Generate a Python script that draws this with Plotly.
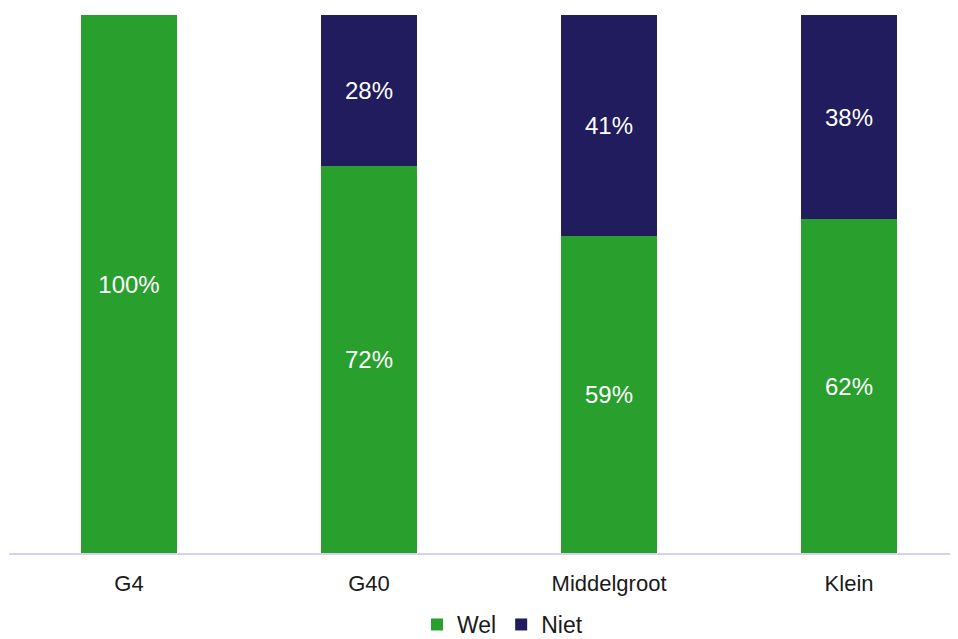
import plotly.graph_objects as go

categories = ["G4", "G40", "Middelgroot", "Klein"]
wel = [100, 72, 59, 62]
niet = [0, 28, 41, 38]

GREEN = "#29A02E"
NAVY = "#201C5E"
FONT = "Liberation Sans, Arial, sans-serif"

def labels(vals):
    return [f"{v}%" if v > 0 else "" for v in vals]

fig = go.Figure()
fig.add_trace(go.Bar(
    name="Wel", x=categories, y=wel, marker=dict(color=GREEN, line=dict(width=0)),
    text=labels(wel), textposition="inside", insidetextanchor="middle",
    textfont=dict(color="white", size=24, family=FONT),
    hoverinfo="skip",
))
fig.add_trace(go.Bar(
    name="Niet", x=categories, y=niet, marker=dict(color=NAVY, line=dict(width=0)),
    text=labels(niet), textposition="inside", insidetextanchor="middle",
    textfont=dict(color="white", size=24, family=FONT),
    hoverinfo="skip",
))

fig.update_layout(
    barmode="stack",
    bargap=0.6,
    width=950, height=645,
    margin=dict(l=1, r=0, t=7, b=100),
    plot_bgcolor="white", paper_bgcolor="white",
    font=dict(family=FONT, color="#1a1a1a", size=22),
    showlegend=True,
    legend=dict(orientation="h", x=0.52, xanchor="center", y=-0.1729, yanchor="bottom",
                font=dict(size=23), itemwidth=30, traceorder="normal"),
    uniformtext=dict(mode="show", minsize=10),
)
fig.update_xaxes(
    range=[-0.5, 3.454], showline=True, linecolor="#D4D2F0", linewidth=2,
    showgrid=False, ticks="", ticklabelstandoff=10, tickfont=dict(size=22),
)
fig.update_yaxes(range=[0, 100], visible=False, showgrid=False)

fig.write_html("out.html")
